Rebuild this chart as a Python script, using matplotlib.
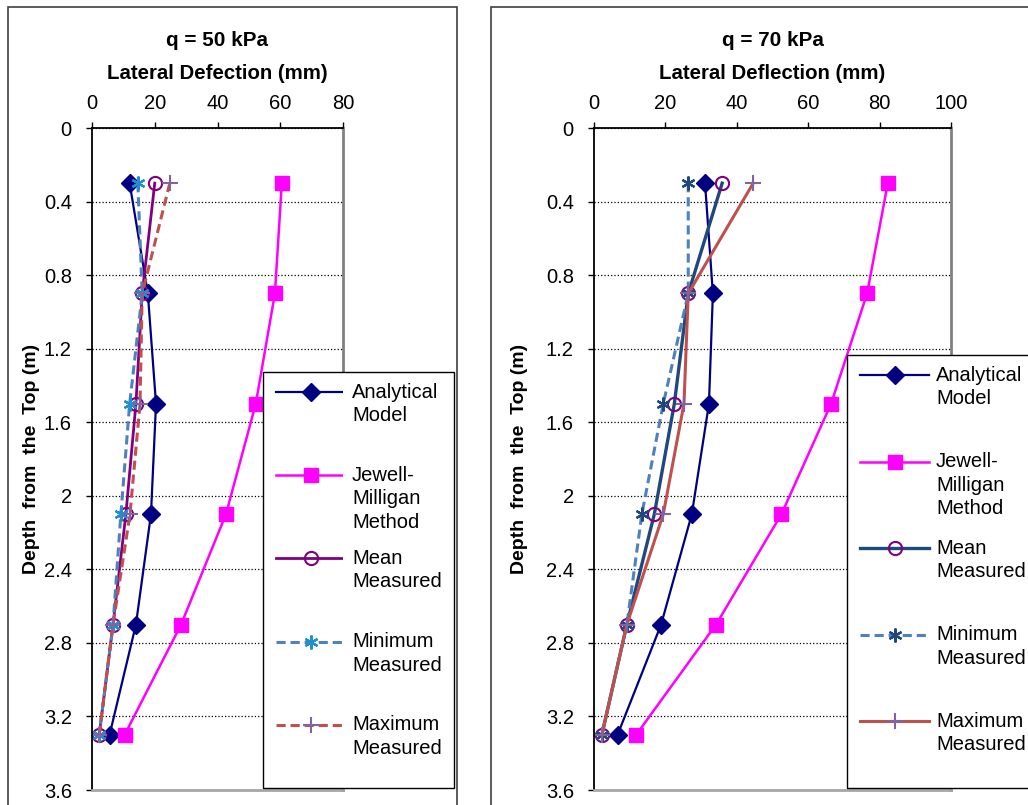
import numpy as np
import matplotlib.pyplot as plt
from matplotlib.patches import Rectangle
from matplotlib.lines import Line2D

plt.rcParams['font.family'] = ['Liberation Sans', 'DejaVu Sans']
plt.rcParams['font.size'] = 14.5

# depth of the measuring points (m)
depth = [0.3, 0.9, 1.5, 2.1, 2.7, 3.3]

# q = 50 kPa, lateral deflection (mm)
analytical_50 = [12.0, 17.8, 20.4, 18.8, 14.0, 5.6]
jewell_50 = [60.5, 58.3, 52.2, 42.7, 28.4, 10.4]
mean_50 = [20.0, 16.0, 14.0, 10.8, 6.7, 2.3]
min_50 = [14.6, 16.0, 12.0, 9.2, 6.7, 2.3]
max_50 = [24.8, 16.0, 15.3, 12.1, 6.7, 2.3]

# q = 70 kPa, lateral deflection (mm)
analytical_70 = [31.1, 33.3, 32.2, 27.4, 18.8, 6.6]
jewell_70 = [82.3, 76.5, 66.4, 52.5, 34.2, 11.8]
mean_70 = [35.9, 26.4, 22.5, 16.9, 9.2, 2.2]
min_70 = [26.4, 26.4, 19.4, 13.4, 9.2, 2.2]
max_70 = [44.6, 26.4, 25.2, 19.4, 9.2, 2.2]

labels = ["Analytical\nModel", "Jewell-\nMilligan\nMethod", "Mean\nMeasured",
          "Minimum\nMeasured", "Maximum\nMeasured"]
y_ticks = [0, 0.4, 0.8, 1.2, 1.6, 2, 2.4, 2.8, 3.2, 3.6]

W, H = 1028, 805
fig = plt.figure(figsize=(W / 100, H / 100), dpi=100)


def fx(px):
    return px / W


def fy(py):
    return 1 - py / H


# chart frames (Excel style)
for x0, x1 in [(8, 457), (491, 1040)]:
    fig.patches.append(Rectangle((fx(x0), -0.05), (x1 - x0) / W, fy(7) + 0.05,
                                 transform=fig.transFigure, fill=False,
                                 edgecolor='#404040', lw=1.2))


def excel_legend(handles, x0, y0, x1, y1):
    # legend box with the marker next to the first line of each label
    fig.patches.append(Rectangle((fx(x0), fy(y1)), (x1 - x0) / W, (y1 - y0) / H,
                                 transform=fig.transFigure, facecolor='white',
                                 edgecolor='black', lw=1.0, zorder=4))
    slot = (y1 - y0) / 5
    for k, (h, lab) in enumerate(zip(handles, labels)):
        yc = y0 + 20 + k * slot
        ln = Line2D([0, 1, 2], [0, 0, 0])
        ln.update_from(h)
        ln.set_data([fx(x0 + 13), fx(x0 + 47.5), fx(x0 + 82)], [fy(yc)] * 3)
        ln.set_transform(fig.transFigure)
        ln.set_markevery([1])
        ln.set_zorder(5)
        fig.add_artist(ln)
        for i, part in enumerate(lab.split('\n')):
            fig.text(fx(x0 + 89), fy(yc + i * 23.5), part, va='center',
                     ha='left', fontsize=14.5, zorder=6)


def panel(left, width, xmax, title, xlabel, series, min_color, mean_color,
          max_style, ylab_x, leg_box):
    ax = fig.add_axes([fx(left), fy(790), width / W, 662 / H])
    an, jw, mn, lo, hi = series
    l1, = ax.plot(an, depth, color='#000080', lw=1.6, marker='D', ms=9)
    l2, = ax.plot(jw, depth, color='#FF00FF', lw=1.8, marker='s', ms=10)
    l3, = ax.plot(mn, depth, color=mean_color, lw=2.0 if mean_color == '#800080' else 2.4,
                  marker='o', ms=9.5, mfc='none', mec='#800080', mew=1.5)
    l4, = ax.plot(lo, depth, color='#4F81BD', lw=2.2, ls=(0, (3, 1.6)),
                  marker=(6, 2, 0), ms=10, mec=min_color, mew=1.6)
    l5, = ax.plot(hi, depth, color='#C0504D', lw=2.2, ls=max_style,
                  marker='+', ms=11, mec='#8064A2', mew=1.5)

    ax.set_xlim(0, xmax)
    ax.set_ylim(3.6, 0)
    ax.set_yticks(y_ticks)
    ax.set_yticklabels(['%g' % t for t in y_ticks])
    ax.set_xticks(np.arange(0, xmax + 1, 20))
    ax.xaxis.tick_top()
    ax.xaxis.set_label_position('top')
    ax.tick_params(axis='both', direction='out', length=4.5, width=1, labelsize=14.5)
    ax.tick_params(axis='y', pad=10)
    ax.tick_params(axis='x', pad=6)
    ax.grid(axis='y', color='black', ls=':', lw=0.9)
    ax.set_xlabel(xlabel, fontweight='bold', fontsize=14.7, labelpad=11)
    ax.set_title(title, fontweight='bold', fontsize=14.9, pad=13)
    ax.set_ylabel("Depth  from  the  Top (m)", fontweight='bold', fontsize=14)
    ax.yaxis.set_label_coords((ylab_x - left) / width, 0.5)
    for s in ['left', 'top']:
        ax.spines[s].set_color('black')
        ax.spines[s].set_linewidth(1.3)
    ax.spines['right'].set_color('#808080')
    ax.spines['right'].set_linewidth(2)
    ax.spines['bottom'].set_color('#A6A6A6')
    ax.spines['bottom'].set_linewidth(2)

    excel_legend([l1, l2, l3, l4, l5], *leg_box)
    return ax


panel(92, 251, 80, "q = 50 kPa", "Lateral Defection (mm)",
      [analytical_50, jewell_50, mean_50, min_50, max_50],
      '#1F8FD0', '#800080', (0, (3, 1.6)), 40, (263, 372, 454, 788))
panel(594, 357, 100, "q = 70 kPa", "Lateral Deflection (mm)",
      [analytical_70, jewell_70, mean_70, min_70, max_70],
      '#1F497D', '#1F497D', '-', 528, (847, 355, 1040, 788))

fig.savefig("out.png", dpi=100)
